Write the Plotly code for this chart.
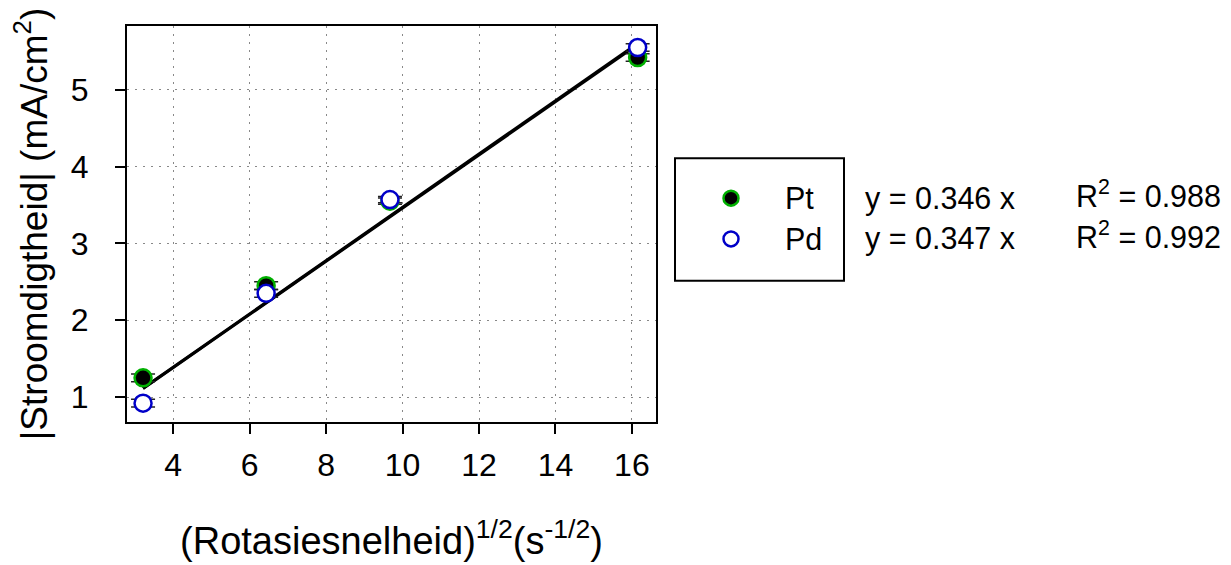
import plotly.graph_objects as go

x_vals = [3.21, 6.43, 9.67, 16.15]
pt_vals = [1.25, 2.45, 3.55, 5.42]
pd_vals = [0.92, 2.35, 3.57, 5.55]
pt_err = [0.05, 0.05, 0.04, 0.05]
pd_err = [0.05, 0.05, 0.04, 0.05]
slopes = {"Pt": 0.346, "Pd": 0.347}
r2 = {"Pt": 0.988, "Pd": 0.992}
x_ticks = [4, 6, 8, 10, 12, 14, 16]
y_ticks = [1, 2, 3, 4, 5]

# page body has an 8px margin, figure shifted accordingly
OFF = 8
W, H = 1223, 557
ML, MR, MT, MB = 119, 10, 18, 141
PW = W - ML - MR
PH = H - MT - MB
plot_right = 656  # image px

def px_x(px):
    return (px - OFF - ML) / PW

def px_y(py):
    return (H - MB - (py - OFF)) / PH

FONT = "Liberation Sans, Arial, sans-serif"
fig = go.Figure()

xfit = [x_vals[0], x_vals[-1]]
for name in ["Pt", "Pd"]:
    fig.add_trace(go.Scatter(x=xfit, y=[slopes[name] * v for v in xfit], mode="lines",
                             line=dict(color="black", width=3), showlegend=False, hoverinfo="skip"))

fig.add_trace(go.Scatter(x=x_vals, y=pt_vals, mode="markers", name="Pt",
                         marker=dict(size=17, color="black", line=dict(color="#00b000", width=2.5)),
                         error_y=dict(type="data", array=pt_err, color="#222222", thickness=1.5, width=12),
                         showlegend=False))
fig.add_trace(go.Scatter(x=x_vals, y=pd_vals, mode="markers", name="Pd",
                         marker=dict(size=17, color="white", line=dict(color="#0000c8", width=2.5)),
                         error_y=dict(type="data", array=pd_err, color="#222222", thickness=1.5, width=12),
                         showlegend=False))

# legend box and symbols on an overlay axis
leg_x0, leg_x1 = px_x(675), px_x(844)
leg_y0, leg_y1 = px_y(282), px_y(159)
fig.add_trace(go.Scatter(x=[(731 - 675) / (844 - 675)], y=[(282 - 199) / (282 - 159)], mode="markers",
                         xaxis="x2", yaxis="y2",
                         marker=dict(size=15, color="black", line=dict(color="#00b000", width=2.5)),
                         showlegend=False, hoverinfo="skip"))
fig.add_trace(go.Scatter(x=[(731 - 675) / (844 - 675)], y=[(282 - 240) / (282 - 159)], mode="markers",
                         xaxis="x2", yaxis="y2",
                         marker=dict(size=15, color="white", line=dict(color="#0000c8", width=2.5)),
                         showlegend=False, hoverinfo="skip"))

fig.add_shape(type="rect", xref="paper", yref="paper", x0=leg_x0, x1=leg_x1, y0=leg_y0, y1=leg_y1,
              line=dict(color="black", width=2))

ann = []
TF = dict(size=30.5, color="black", family=FONT)
for name, py in [("Pt", 199), ("Pd", 240)]:
    ann.append(dict(text=name, x=px_x(783), y=px_y(py), xref="paper", yref="paper",
                    xanchor="left", yanchor="middle", showarrow=False, font=TF))
    ann.append(dict(text=f"y = {slopes[name]:.3f} x", x=px_x(863), y=px_y(py), xref="paper", yref="paper",
                    xanchor="left", yanchor="middle", showarrow=False, font=TF))
    ann.append(dict(text=f"R<sup>2</sup> = {r2[name]:.3f}", x=px_x(1074), y=px_y(py - 4), xref="paper", yref="paper",
                    xanchor="left", yanchor="middle", showarrow=False, font=TF))

fig.update_layout(
    width=W, height=H,
    margin=dict(l=ML, r=MR, t=MT, b=MB),
    plot_bgcolor="white", paper_bgcolor="white",
    font=dict(family=FONT, color="black"),
    annotations=ann,
    xaxis=dict(domain=[0, px_x(plot_right)], range=[2.79, 16.63], tickvals=x_ticks,
               showline=True, mirror=True, linecolor="black", linewidth=2,
               ticks="outside", ticklen=10, tickwidth=2, tickcolor="black",
               showgrid=True, gridcolor="#888888", griddash="2px,6px", gridwidth=1,
               zeroline=False, tickfont=dict(size=32, family=FONT), ticklabelstandoff=4,
               title=dict(text="(Rotasiesnelheid)<sup>1/2</sup>(s<sup>-1/2</sup>)", font=dict(size=38), standoff=45)),
    yaxis=dict(domain=[0, 1], range=[0.675, 5.83], tickvals=y_ticks,
               showline=True, mirror=True, linecolor="black", linewidth=2,
               ticks="outside", ticklen=10, tickwidth=2, tickcolor="black",
               showgrid=True, gridcolor="#888888", griddash="2px,6px", gridwidth=1,
               zeroline=False, tickfont=dict(size=32, family=FONT), ticklabelstandoff=20,
               title=dict(text="|Stroomdigtheid| (mA/cm<sup>2</sup>)", font=dict(size=37), standoff=20)),
    xaxis2=dict(domain=[leg_x0, leg_x1], range=[0, 1], visible=False, fixedrange=True, anchor="y2"),
    yaxis2=dict(domain=[leg_y0, leg_y1], range=[0, 1], visible=False, anchor="x2", fixedrange=True),
)

fig.write_html("out.html")
